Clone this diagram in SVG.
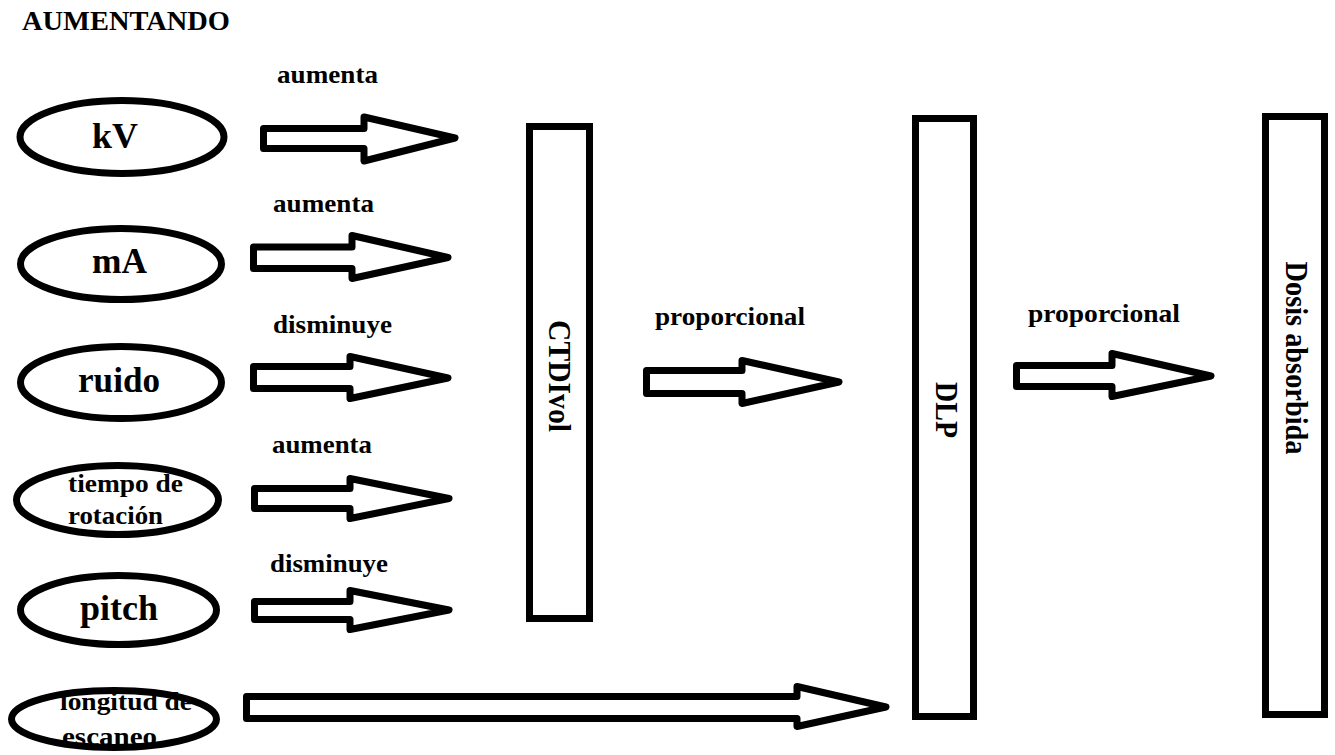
<svg xmlns="http://www.w3.org/2000/svg" width="1335" height="755" viewBox="0 0 1335 755">
  <style>
    .bg { fill: #ffffff; }
    .oval { fill: #ffffff; stroke: #000000; stroke-width: 7; }
    .bar { fill: #ffffff; stroke: #000000; stroke-width: 7; }
    .arrow { fill: #ffffff; stroke: #000000; stroke-width: 7; stroke-linejoin: round; }
    text { font-family: "Liberation Serif", "Times New Roman", serif; font-weight: bold; fill: #000000; }
    .title { font-size: 28px; }
    .big { font-size: 36px; text-anchor: middle; }
    .small { font-size: 26px; text-anchor: middle; }
    .lbl { font-size: 25px; text-anchor: middle; }
    .vert { font-size: 31px; text-anchor: middle; }
  </style>

  <rect class="bg" x="0" y="0" width="1335" height="755"/>

  <text class="title" x="22" y="30" textLength="208" lengthAdjust="spacingAndGlyphs">AUMENTANDO</text>

  <!-- input parameters -->
  <g id="kv">
    <ellipse class="oval" cx="122" cy="137" rx="102" ry="36.5"/>
    <text class="big" x="115" y="148" textLength="46" lengthAdjust="spacingAndGlyphs">kV</text>
  </g>
  <g id="ma">
    <ellipse class="oval" cx="121" cy="264" rx="100.5" ry="35.5"/>
    <text class="big" x="119.5" y="273" textLength="55" lengthAdjust="spacingAndGlyphs">mA</text>
  </g>
  <g id="ruido">
    <ellipse class="oval" cx="121" cy="382.5" rx="100.5" ry="36"/>
    <text class="big" x="119" y="392" textLength="82" lengthAdjust="spacingAndGlyphs">ruido</text>
  </g>
  <g id="tiempo">
    <ellipse class="oval" cx="117.5" cy="500" rx="101" ry="34.5"/>
    <text class="small" x="125.5" y="492" textLength="115" lengthAdjust="spacingAndGlyphs">tiempo de</text>
    <text class="small" x="115.5" y="524" textLength="95" lengthAdjust="spacingAndGlyphs">rotación</text>
  </g>
  <g id="pitch">
    <ellipse class="oval" cx="118.5" cy="610" rx="98" ry="34.5"/>
    <text class="big" x="119" y="620" textLength="78" lengthAdjust="spacingAndGlyphs">pitch</text>
  </g>
  <g id="longitud">
    <ellipse class="oval" cx="114" cy="719" rx="102.5" ry="28.5"/>
    <text class="small" x="126" y="710" textLength="132" lengthAdjust="spacingAndGlyphs">longitud de</text>
    <text class="small" x="109.5" y="745" textLength="95" lengthAdjust="spacingAndGlyphs">escaneo</text>
  </g>

  <!-- result bars -->
  <g id="ctdivol">
    <rect class="bar" x="529.5" y="126.5" width="60" height="492"/>
    <text class="vert" transform="translate(549 376) rotate(90)" textLength="112" lengthAdjust="spacingAndGlyphs">CTDIvol</text>
  </g>
  <g id="dlp">
    <rect class="bar" x="915.5" y="118.5" width="58" height="598"/>
    <text class="vert" transform="translate(936 410) rotate(90)" textLength="56" lengthAdjust="spacingAndGlyphs">DLP</text>
  </g>
  <g id="dosis">
    <rect class="bar" x="1265.5" y="116.5" width="59" height="598"/>
    <text class="vert" transform="translate(1286 358) rotate(90)" textLength="193" lengthAdjust="spacingAndGlyphs">Dosis absorbida</text>
  </g>

  <!-- block arrows and their labels -->
  <g id="connectors">
    <polygon class="arrow" points="263.5,128.5 364,128.5 364,117 455,138 364,161 364,148.5 263.5,148.5"/>
    <polygon class="arrow" points="253.5,247 352,247 352,235.5 448,257.5 352,278.5 352,268.5 253.5,268.5"/>
    <polygon class="arrow" points="253.5,366.5 350,366.5 350,356.5 448,378 350,398.5 350,388.5 253.5,388.5"/>
    <polygon class="arrow" points="254.5,488.5 350,488.5 350,478.5 449,498.5 350,518.5 350,508.5 254.5,508.5"/>
    <polygon class="arrow" points="254.5,601.5 350,601.5 350,590.5 449,610 350,629.5 350,619.5 254.5,619.5"/>
    <polygon class="arrow" points="246.5,696.5 797,696.5 797,686.5 886,707 797,726.5 797,718.5 246.5,718.5"/>
    <polygon class="arrow" points="646.5,370.5 742,370.5 742,360.5 839,382 742,403.5 742,393.5 646.5,393.5"/>
    <polygon class="arrow" points="1016.5,365.5 1112,365.5 1112,353.5 1211,376 1112,396.5 1112,386.5 1016.5,386.5"/>

    <text class="lbl" x="327.5" y="83" textLength="101" lengthAdjust="spacingAndGlyphs">aumenta</text>
    <text class="lbl" x="323.5" y="212" textLength="101" lengthAdjust="spacingAndGlyphs">aumenta</text>
    <text class="lbl" x="332.5" y="333" textLength="119" lengthAdjust="spacingAndGlyphs">disminuye</text>
    <text class="lbl" x="322" y="453" textLength="100" lengthAdjust="spacingAndGlyphs">aumenta</text>
    <text class="lbl" x="329" y="572" textLength="118" lengthAdjust="spacingAndGlyphs">disminuye</text>
    <text class="lbl" x="730" y="325" textLength="150" lengthAdjust="spacingAndGlyphs">proporcional</text>
    <text class="lbl" x="1104" y="322" textLength="152" lengthAdjust="spacingAndGlyphs">proporcional</text>
  </g>
</svg>
